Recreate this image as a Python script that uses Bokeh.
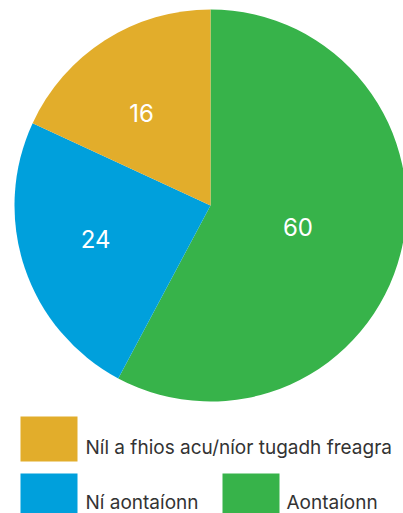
import math
from bokeh.plotting import figure
from bokeh.models import Range1d, ColumnDataSource
from bokeh.core.properties import value
from bokeh.embed import file_html
from bokeh.resources import INLINE

# ---- data ----
categories = ["Aontaíonn", "Ní aontaíonn", "Níl a fhios acu/níor tugadh freagra"]
labels = ["60", "24", "16"]
shares = [57.8, 24.1, 18.1]          # slice sizes as drawn
colors = ["#37B34A", "#00A0DC", "#E2AD2B"]

# ---- layout / style ----
W, H = 403, 513
CX, CY, R = 210, H - 205, 196
label_rfrac = [0.46, 0.61, 0.59]
label_shift = [0.0, -2.5, 4.0]   # degrees, nudge along arc

p = figure(width=W, height=H, output_backend="svg", toolbar_location=None,
           x_range=Range1d(0, W), y_range=Range1d(0, H),
           min_border=0, outline_line_color=None)
p.axis.visible = False
p.grid.visible = False
p.background_fill_color = "white"
p.border_fill_color = "white"

total = sum(shares)
starts, ends, lx, ly = [], [], [], []
a = math.pi / 2
for s, rf, sh in zip(shares, label_rfrac, label_shift):
    sweep = 2 * math.pi * s / total
    starts.append(a)
    ends.append(a - sweep)
    mid = a - sweep / 2 + math.radians(sh)
    lx.append(CX + R * rf * math.cos(mid))
    ly.append(CY + R * rf * math.sin(mid))
    a -= sweep

src = ColumnDataSource(dict(start=starts, end=ends, color=colors,
                            lx=lx, ly=ly, label=labels))
p.wedge(x=CX, y=CY, radius=R, start_angle="start", end_angle="end",
        direction="clock", fill_color="color", line_color=None, source=src)
p.text(x="lx", y="ly", text="label", source=src, text_color="white",
       text_font=value("Inter"), text_font_size="24px",
       text_align="center", text_baseline="middle")

# ---- legend (manual, two rows) ----
leg_order = [2, 1, 0]
leg_box_x = [48.5, 48.5, 250.5]
leg_box_y = [H - 438.5, H - 495.5, H - 495.5]
leg_txt_x = [85, 85, 286]
leg_txt_y = [H - 446.7, H - 502, H - 502]
lsrc = ColumnDataSource(dict(
    bx=leg_box_x, by=leg_box_y, tx=leg_txt_x, ty=leg_txt_y,
    color=[colors[i] for i in leg_order],
    text=[categories[i] for i in leg_order]))
p.rect(x="bx", y="by", width=57, height=45, fill_color="color",
       line_color=None, source=lsrc)
p.text(x="tx", y="ty", text="text", source=lsrc, text_color="#333333",
       text_font=value("Inter"), text_font_size="19px",
       text_align="left", text_baseline="alphabetic")

open("out.html", "w").write(file_html(p, INLINE))
